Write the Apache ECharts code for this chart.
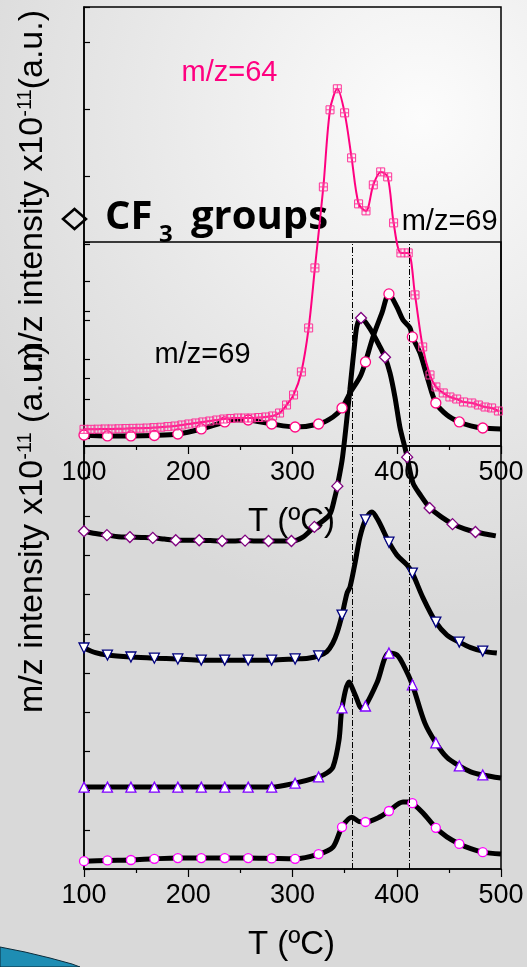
<!DOCTYPE html>
<html><head><meta charset="utf-8">
<script src="https://cdn.jsdelivr.net/npm/echarts/dist/echarts.min.js"></script>
<style>html,body{margin:0;padding:0;background:#e4e4e4}#c{width:527px;height:967px}</style>
</head><body><div id="c"></div>
<script>
// ---------- data ----------
const xTickLabels = ['100', '200', '300', '400', '500'];
const dashT = [357.4, 412];

// upper panel : m/z = 64 (pink)
const so2T = [100,106.7,113.4,120.1,126.8,133.5,140.2,146.9,153.6,160.3,167,173.7,180.4,187.1,193.8,200.5,207.2,213.9,220.6,227.3,234,240.7,247.4,254.1,260.8,267.5,274.2,280.9,287.6,294.3,301,308.5,315.5,321.5,329.6,336,343,350,356.7,363.4,370.5,377.5,384.6,391.3,397,404,411,417.5,424.9,431.9,437.6,444.6,451,457.5,464,472,478.3,484.7,491,497.5];
const so2V = [0.248,0.248,0.250,0.253,0.253,0.256,0.259,0.262,0.264,0.267,0.273,0.279,0.288,0.297,0.312,0.327,0.342,0.357,0.371,0.386,0.401,0.409,0.416,0.416,0.416,0.423,0.431,0.446,0.490,0.609,0.758,1.100,1.753,2.645,3.848,4.993,5.305,4.948,4.279,3.596,3.492,3.878,4.071,3.997,3.314,2.868,2.868,2.244,1.471,1.055,0.877,0.788,0.728,0.698,0.654,0.639,0.609,0.579,0.565,0.520];

// upper panel : m/z = 69 (black line, circles)
const up69LineT = [100,122.5,145,167.5,190,212.5,235,246,257.5,280,302.5,325,338.8,347.5,355.2,364.7,370,377.2,385.8,392.5,400.2,406,412.7,415,422.3,430,437.5,448.2,460,471,482.5,500];
const up69LineV = [0.163,0.149,0.149,0.156,0.178,0.253,0.357,0.390,0.386,0.327,0.282,0.327,0.431,0.565,0.788,1.025,1.248,1.620,1.976,2.259,2.065,1.872,1.753,1.620,1.382,0.981,0.639,0.461,0.357,0.300,0.267,0.253];
const markT = [100,122.5,145,167.5,190,212.5,235,257.5,280,302.5,325,347.5,370,392.5,415,437.5,460,482.5];
const up69MarkV = [0.163,0.149,0.149,0.156,0.178,0.253,0.357,0.386,0.327,0.282,0.327,0.565,1.248,2.259,1.620,0.639,0.357,0.267];

// lower panel : diamonds (CF3 groups)
const cf3LineT = [100,111,122,133,144,155,166,177,188,199,210,221,232,243,254,265,276,287,299,310,321,329,336,340,343,348,355,360,362,365.7,374,384,388.7,393.5,398.3,403,408,410,415.6,422,432,443,454,465,476,495];
const cf3LineV = [8.62,8.56,8.52,8.48,8.47,8.46,8.45,8.42,8.39,8.39,8.39,8.38,8.37,8.37,8.38,8.37,8.37,8.37,8.37,8.47,8.73,8.88,9.06,9.42,9.77,10.51,12.22,13.50,13.88,14.06,13.80,13.32,13.06,12.66,12.04,11.28,10.74,10.51,9.85,9.57,9.21,8.98,8.80,8.68,8.60,8.50];
const cf3MarkT = [100,122,144,166,188,210.5,232.5,254.5,277,299,321,343,365.7,388.7,410,431.5,453.5,475.5];
const cf3MarkV = [8.62,8.52,8.47,8.45,8.39,8.39,8.37,8.38,8.37,8.37,8.73,9.77,14.06,13.06,10.51,9.21,8.80,8.60];

// lower panel : down triangles
const tdLineT = [100,111,122.5,145,167.5,190,212.5,235,257.5,280,302.5,315,325,333,338.6,343,347.5,352.3,355.2,360,364.7,370,376.2,381.9,392.5,400.2,409.8,415,425.2,437.5,448.2,460,471,482.5,496];
const tdLineV = [5.64,5.52,5.46,5.41,5.38,5.36,5.33,5.33,5.33,5.33,5.36,5.38,5.44,5.55,5.76,6.05,6.48,7.04,7.20,7.81,8.47,8.91,9.11,8.91,8.34,8.01,7.76,7.55,6.92,6.30,5.97,5.79,5.65,5.56,5.51];
const tdMarkV = [5.64,5.46,5.41,5.38,5.36,5.33,5.33,5.33,5.33,5.36,5.44,6.48,8.91,8.34,7.55,6.30,5.79,5.56];

// lower panel : up triangles
const tuLineT = [100,122.5,145,167.5,190,212.5,235,257.5,280,302.5,325,333,338.8,344.6,347.5,354.2,360,366.5,370,381,392.5,400.2,406.3,415,426.9,437.5,448,460,471,482.5,500];
const tuLineV = [2.09,2.09,2.09,2.09,2.09,2.09,2.09,2.09,2.09,2.19,2.35,2.45,2.60,3.29,4.11,4.77,4.45,4.10,4.16,4.75,5.51,5.46,5.21,4.70,3.73,3.22,2.85,2.63,2.48,2.40,2.32];
const tuMarkV = [2.09,2.09,2.09,2.09,2.09,2.09,2.09,2.09,2.09,2.19,2.35,4.11,4.16,5.51,4.70,3.22,2.63,2.40];

// lower panel : circles
const ciLineT = [100,122.5,145,167.5,190,212.5,235,257.5,280,302.5,325,338.8,347.5,357,364,370,383.9,392.5,406,412.7,415,425.2,437.5,448,460,471,482.5,500];
const ciLineV = [0.20,0.22,0.23,0.26,0.28,0.28,0.28,0.28,0.27,0.26,0.38,0.56,1.07,1.32,1.21,1.20,1.33,1.48,1.71,1.71,1.68,1.43,1.05,0.82,0.64,0.52,0.43,0.38];
const ciMarkV = [0.20,0.22,0.23,0.26,0.28,0.28,0.28,0.28,0.27,0.26,0.38,1.07,1.20,1.48,1.68,1.05,0.64,0.43];

// ---------- chart ----------
const FONT = '"Liberation Sans", Arial, sans-serif';
const pairs = (t, v) => t.map((x, i) => [x, v[i]]);

function xAx(i) {
  return {
    gridIndex: i, type: 'value', min: 100, max: 500, interval: 100,
    axisLine: { show: true, onZero: false, lineStyle: { color: '#000', width: 1.5 } },
    axisTick: { show: true, inside: false, length: 8, lineStyle: { color: '#000', width: 1.2 } },
    minorTick: { show: true, splitNumber: 2, length: 4, lineStyle: { color: '#000', width: 1.2 } },
    splitLine: { show: false }, minorSplitLine: { show: false },
    axisLabel: { fontSize: 27, fontFamily: FONT, color: '#000', margin: 13,
      formatter: v => xTickLabels.includes(String(v)) ? String(v) : '' }
  };
}
function yAx(i, max) {
  return {
    gridIndex: i, type: 'value', min: 0, max: max, interval: 1,
    axisLine: { show: true, onZero: false, lineStyle: { color: '#000', width: 1.5 } },
    axisTick: { show: true, inside: true, length: 6, lineStyle: { color: '#000', width: 1.2 } },
    axisLabel: { show: false }, splitLine: { show: false }
  };
}
function blackLine(g, t, v, extra) {
  return Object.assign({
    type: 'line', xAxisIndex: g, yAxisIndex: g, data: pairs(t, v),
    showSymbol: false, smooth: 0.3, z: 2, silent: true,
    lineStyle: { color: '#000', width: 5 }
  }, extra || {});
}
function markers(g, t, v, symbol, size, border, extra) {
  return Object.assign({
    type: 'scatter', xAxisIndex: g, yAxisIndex: g, data: pairs(t, v),
    symbol: symbol, symbolSize: size, z: 3, silent: true,
    itemStyle: { color: '#fff', borderColor: border, borderWidth: 1.3, opacity: 1 }
  }, extra || {});
}

const chart = echarts.init(document.getElementById('c'), null, { renderer: 'canvas' });
const supRich = {
  m: { fontSize: 34, fontFamily: FONT, color: '#000', lineHeight: 34, verticalAlign: 'bottom' },
  s: { fontSize: 20, fontFamily: FONT, color: '#000', lineHeight: 20, padding: [0, 0, 25, 0], verticalAlign: 'top' }
};
chart.setOption({
  animation: false,
  backgroundColor: { type: 'radial', x: 0.8, y: 0.12, r: 0.95,
    colorStops: [{ offset: 0, color: '#fcfcfc' }, { offset: 1, color: '#d9d9d9' }] },
  grid: [
    { left: 84, right: 26, top: 7, height: 439, show: true, borderColor: '#000', borderWidth: 1.5, backgroundColor: 'transparent' },
    { left: 84, right: 26, top: 242, height: 627, show: true, borderColor: '#000', borderWidth: 1.5, backgroundColor: 'transparent' }
  ],
  xAxis: [xAx(0), xAx(1)],
  yAxis: [yAx(0, 6.52), yAx(1, 16)],
  series: [
    blackLine(1, cf3LineT, cf3LineV, {
      markLine: { symbol: ['none', 'none'], silent: true, label: { show: false },
        lineStyle: { color: '#000', width: 1, type: [6, 2, 1, 2] },
        data: dashT.map(t => ({ xAxis: t })) }
    }),
    blackLine(1, tdLineT, tdLineV),
    blackLine(1, tuLineT, tuLineV),
    blackLine(1, ciLineT, ciLineV),
    markers(1, cf3MarkT, cf3MarkV, 'diamond', 11, '#800080'),
    markers(1, markT, tdMarkV, 'triangle', 10, '#00007f', { symbolRotate: 180 }),
    markers(1, markT, tuMarkV, 'triangle', 10, '#7f00ff'),
    markers(1, markT, ciMarkV, 'circle', 9, '#ff00ff'),
    blackLine(0, up69LineT, up69LineV),
    markers(0, markT, up69MarkV, 'circle', 10, '#ff0a84'),
    {
      type: 'line', xAxisIndex: 0, yAxisIndex: 0, data: pairs(so2T, so2V),
      smooth: 0.3, z: 4, silent: true, showSymbol: true, showAllSymbol: true,
      symbol: 'path://M0,0L10,0L10,10L0,10Z M5,0L5,10 M0,5L10,5', symbolSize: 8,
      lineStyle: { color: '#ff0080', width: 2 },
      itemStyle: { color: 'rgba(255,255,255,0)', borderColor: '#ff3399', borderWidth: 1 }
    }
  ],
  graphic: [
    { type: 'polygon', z: 0, shape: { points: [[0, 947], [25, 952], [50, 958], [72, 964], [80, 967], [0, 967]] },
      style: { fill: '#1e8db3', stroke: '#0b2b3a', lineWidth: 1 } },
    { type: 'text', x: 32.5, y: 10, rotation: Math.PI / 2, z: 1,
      style: { text: '{m|m/z intensity x10}{s|-11}{m|(a.u.)}', rich: supRich,
        align: 'right', verticalAlign: 'middle', textAlign: 'right', textVerticalAlign: 'middle' } },
    { type: 'text', x: 32.5, y: 713, rotation: Math.PI / 2, z: 1,
      style: { text: '{m|m/z intensity x10}{s|-11}{m| (a.u.)}', rich: supRich,
        align: 'left', verticalAlign: 'middle', textAlign: 'left', textVerticalAlign: 'middle' } },
    { type: 'text', x: 181.5, y: 73, z: 1,
      style: { text: 'm/z=64', font: '29px ' + FONT, fill: '#ff0080', align: 'left', verticalAlign: 'middle', textAlign: 'left', textVerticalAlign: 'middle' } },
    { type: 'text', x: 401.7, y: 222, z: 1,
      style: { text: 'm/z=69', font: '29px ' + FONT, fill: '#000', align: 'left', verticalAlign: 'middle', textAlign: 'left', textVerticalAlign: 'middle' } },
    { type: 'text', x: 154.6, y: 355, z: 1,
      style: { text: 'm/z=69', font: '29px ' + FONT, fill: '#000', align: 'left', verticalAlign: 'middle', textAlign: 'left', textVerticalAlign: 'middle' } },
    { type: 'polygon', z: 1, shape: { points: [[63, 219], [74.5, 209], [86, 219], [74.5, 229]] },
      style: { fill: 'none', stroke: '#000', lineWidth: 2.5 } },
    { type: 'text', x: 105, y: 218, z: 1,
      style: { text: 'CF', font: 'bold 40px "Open Sans", sans-serif', fill: '#000', align: 'left', verticalAlign: 'middle', textAlign: 'left', textVerticalAlign: 'middle' } },
    { type: 'text', x: 159, y: 235, z: 1,
      style: { text: '3', font: 'bold 24px "Open Sans", sans-serif', fill: '#000', align: 'left', verticalAlign: 'middle', textAlign: 'left', textVerticalAlign: 'middle' } },
    { type: 'text', x: 191, y: 218, z: 1,
      style: { text: 'groups', font: 'bold 40px "Open Sans", sans-serif', fill: '#000', align: 'left', verticalAlign: 'middle', textAlign: 'left', textVerticalAlign: 'middle' } },
    { type: 'text', x: 291.5, y: 521.5, z: 1,
      style: { text: 'T (ºC)', font: '33px ' + FONT, fill: '#000', align: 'center', verticalAlign: 'middle', textAlign: 'center', textVerticalAlign: 'middle' } },
    { type: 'text', x: 291.5, y: 945, z: 1,
      style: { text: 'T (ºC)', font: '33px ' + FONT, fill: '#000', align: 'center', verticalAlign: 'middle', textAlign: 'center', textVerticalAlign: 'middle' } }
  ]
});
</script>
</body></html>
